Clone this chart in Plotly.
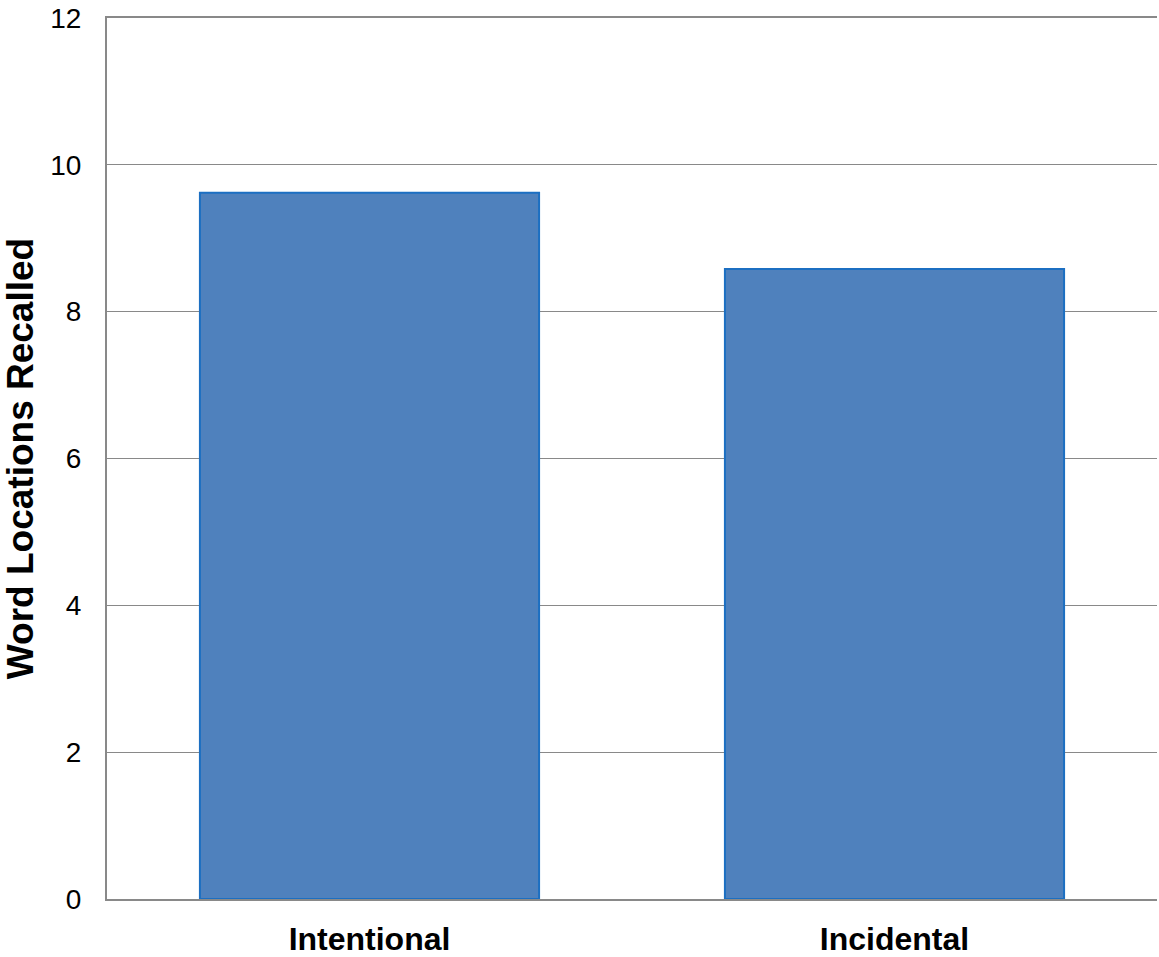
import plotly.graph_objects as go

categories = ["Intentional", "Incidental"]
values = [9.62, 8.58]
y_ticks = [0, 2, 4, 6, 8, 10, 12]

fig = go.Figure()
fig.add_trace(go.Bar(
    x=categories, y=values,
    marker=dict(color="#4F81BD", line=dict(color="#1C6FC2", width=2)),
))

fig.update_layout(
    width=1159, height=957,
    margin=dict(l=107, r=2, t=18, b=58),
    plot_bgcolor="white", paper_bgcolor="white",
    bargap=0.354,
    showlegend=False,
    font=dict(family="Liberation Sans, Arial, sans-serif", color="black"),
)
fig.update_xaxes(
    showline=True, linecolor="#898989", linewidth=2, mirror=True,
    showgrid=False, ticks="", automargin=False,
    tickfont=dict(size=32, family="Liberation Sans, Arial, sans-serif", weight="bold"),
    ticklabelstandoff=11,
)
fig.update_yaxes(
    range=[0, 12], tickvals=y_ticks,
    showline=True, linecolor="#898989", linewidth=2,
    showgrid=True, gridcolor="#898989", gridwidth=1,
    zeroline=False, ticks="", automargin=False,
    tickfont=dict(size=28),
    ticklabelstandoff=18,
    title=dict(text="Word Locations Recalled", standoff=8,
               font=dict(size=37, weight="bold")),
)

fig.write_html("out.html")
